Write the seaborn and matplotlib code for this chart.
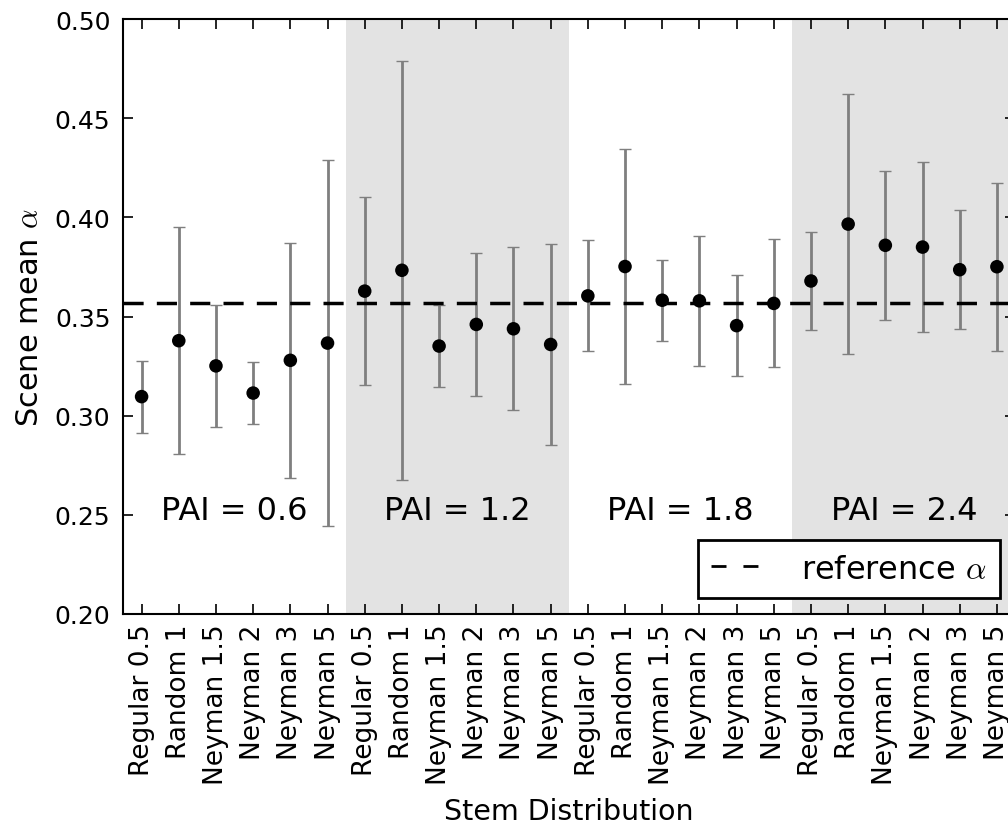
import matplotlib
matplotlib.use("Agg")
import matplotlib.pyplot as plt
import seaborn as sns
import numpy as np
from matplotlib.lines import Line2D

# ---------------- data ----------------
stem_labels = ["Regular 0.5", "Random 1", "Neyman 1.5", "Neyman 2", "Neyman 3", "Neyman 5"]
pai_labels = ["PAI = 0.6", "PAI = 1.2", "PAI = 1.8", "PAI = 2.4"]
means = [0.3096, 0.3378, 0.3251, 0.3114, 0.3279, 0.3366,
         0.3628, 0.3733, 0.3351, 0.3460, 0.3438, 0.3359,
         0.3604, 0.3752, 0.3582, 0.3579, 0.3454, 0.3566,
         0.3679, 0.3966, 0.3859, 0.3850, 0.3736, 0.3751]
errs = [0.0182, 0.0572, 0.0306, 0.0155, 0.0592, 0.0922,
        0.0473, 0.1057, 0.0206, 0.0362, 0.0411, 0.0508,
        0.0280, 0.0591, 0.0205, 0.0327, 0.0255, 0.0323,
        0.0247, 0.0657, 0.0375, 0.0427, 0.0301, 0.0423]
reference_alpha = 0.357
y_ticks = [0.20, 0.25, 0.30, 0.35, 0.40, 0.45, 0.50]

# ---------------- style ----------------
sns.set_style("ticks")
plt.rcParams["font.family"] = ["DejaVu Sans"]
plt.rcParams["mathtext.fontset"] = "cm"
plt.rcParams["text.color"] = "black"
plt.rcParams["axes.labelcolor"] = "black"
plt.rcParams["xtick.color"] = "black"
plt.rcParams["ytick.color"] = "black"

n_group = len(stem_labels)
x = np.arange(len(means))
tick_labels = stem_labels * len(pai_labels)

fig = plt.figure(figsize=(10.08, 8.29), dpi=100)
ax = fig.add_axes([123 / 1008, 1 - 615 / 829, 892.5 / 1008, 595 / 829])

# shaded groups
for g in range(len(pai_labels)):
    if g % 2 == 1:
        ax.axvspan(g * n_group - 0.5, g * n_group + n_group - 0.5,
                   color="#e3e3e3", lw=0, zorder=0)

ax.errorbar(x, means, yerr=errs, fmt="none", ecolor="#7f7f7f",
            elinewidth=2, capsize=4, capthick=1, zorder=1)
ax.axhline(reference_alpha, color="black", lw=2.5, dashes=(5.8, 3.8), zorder=2)
sns.scatterplot(x=x, y=means, color="black", s=95, edgecolor="none",
                zorder=3, ax=ax, legend=False)

for g, lab in enumerate(pai_labels):
    ax.text(g * n_group + (n_group - 1) / 2, 0.248, lab, ha="center",
            va="baseline", fontsize=23, color="black")

ax.set_xlim(-0.5, len(means) - 0.5)
ax.set_ylim(0.20, 0.50)
ax.set_yticks(y_ticks)
ax.set_yticklabels([f"{v:.2f}" for v in y_ticks])
ax.set_xticks(x)
ax.set_xticklabels(tick_labels, rotation=90)

ax.tick_params(direction="in", top=True, right=True, length=7.2, width=1.2,
               colors="black")
ax.tick_params(axis="y", pad=9, labelsize=18)
ax.tick_params(axis="x", pad=7, labelsize=19)
for sp in ax.spines.values():
    sp.set_linewidth(1.5)
    sp.set_color("black")

ax.set_xlabel("Stem Distribution", fontsize=20.5, labelpad=9)
ax.set_ylabel(r"Scene mean $\alpha$", fontsize=22, labelpad=8)

handle = Line2D([0], [0], color="black", lw=2, dashes=(5.4, 6.1))
leg = ax.legend([handle], [r"reference $\alpha$"], loc="lower right",
                fontsize=23, frameon=True, fancybox=False, framealpha=1,
                edgecolor="black", handlelength=1.6, handletextpad=1.2,
                borderpad=0.42, borderaxespad=0.5)
leg.get_frame().set_linewidth(2)

fig.savefig("out.png", dpi=100, facecolor="white")
